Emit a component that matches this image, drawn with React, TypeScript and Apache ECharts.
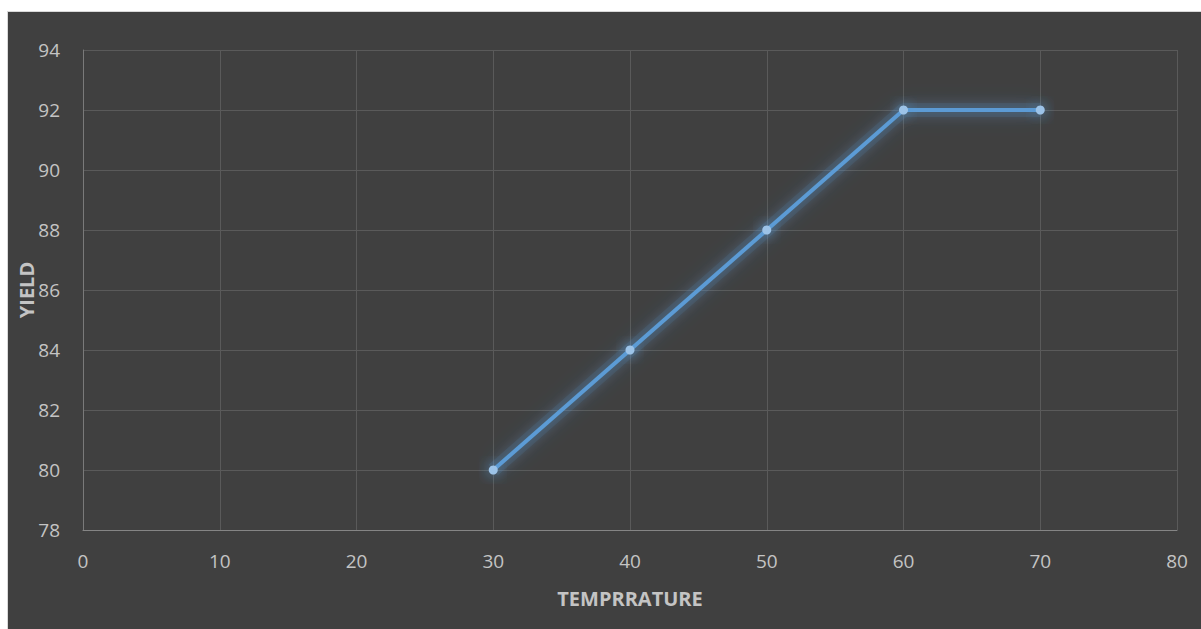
import React, { useEffect, useRef } from "react";
import * as echarts from "echarts";

const temperature = [30, 40, 50, 60, 70];
const yieldValues = [80, 84, 88, 92, 92];
const xTitle = "TEMPRRATURE";
const yTitle = "YIELD";

export default function App() {
  const ref = useRef<HTMLDivElement>(null);
  useEffect(() => {
    document.body.style.margin = "0";
    const chart = echarts.init(ref.current!, undefined, { renderer: "svg" });
    const font = "'Open Sans', 'Noto Sans', sans-serif";
    const textColor = "#c4c4c4";
    const points = temperature.map((t, i) => [t, yieldValues[i]]);
    chart.setOption({
      animation: false,
      backgroundColor: "#ffffff",
      graphic: [
        {
          type: "rect",
          z: -10,
          silent: true,
          shape: { x: 7.5, y: 11.5, width: 1200, height: 620 },
          style: { fill: "#404040", stroke: "#d9d9d9", lineWidth: 1 },
        },
      ],
      grid: { left: 83, right: 24, top: 50, bottom: 99 },
      xAxis: {
        type: "value",
        min: 0,
        max: 80,
        interval: 10,
        name: xTitle,
        nameLocation: "middle",
        nameMoveOverlap: false,
        nameGap: 58,
        nameTextStyle: { color: textColor, fontSize: 20, fontWeight: "bold", fontFamily: font },
        axisLine: { show: true, lineStyle: { color: "#858585", width: 1 } },
        axisTick: { show: false },
        axisLabel: { color: textColor, fontSize: 19, fontFamily: font, margin: 21 },
        splitLine: { show: true, lineStyle: { color: "#5a5a5a", width: 1 } },
      },
      yAxis: {
        type: "value",
        min: 78,
        max: 94,
        interval: 2,
        name: yTitle,
        nameLocation: "middle",
        nameMoveOverlap: false,
        nameGap: 47,
        nameRotate: 90,
        nameTextStyle: { color: textColor, fontSize: 20, fontWeight: "bold", fontFamily: font },
        axisLine: { show: true, lineStyle: { color: "#7a7a7a", width: 1 } },
        axisTick: { show: false },
        axisLabel: { color: textColor, fontSize: 19, fontFamily: font, margin: 23 },
        splitLine: { show: true, lineStyle: { color: "#5a5a5a", width: 1 } },
      },
      series: [
        {
          type: "line",
          data: points,
          symbol: "none",
          silent: true,
          z: 1,
          lineStyle: {
            color: "rgba(91,155,213,0.12)",
            width: 14,
            shadowColor: "rgba(91,155,213,0.55)",
            shadowBlur: 24,
          },
        },
        {
          type: "line",
          data: points,
          symbol: "circle",
          symbolSize: 9,
          z: 2,
          itemStyle: {
            color: "#9cc3e8",
            borderWidth: 0,
            shadowColor: "rgba(91,155,213,1)",
            shadowBlur: 14,
          },
          lineStyle: {
            color: "#5b9bd5",
            width: 4,
            shadowColor: "rgba(91,155,213,0.85)",
            shadowBlur: 14,
          },
        },
      ],
    });
    return () => chart.dispose();
  }, []);
  return (
    <div
      ref={ref}
      style={{ position: "absolute", left: 0, top: 0, width: 1201, height: 629 }}
    />
  );
}
